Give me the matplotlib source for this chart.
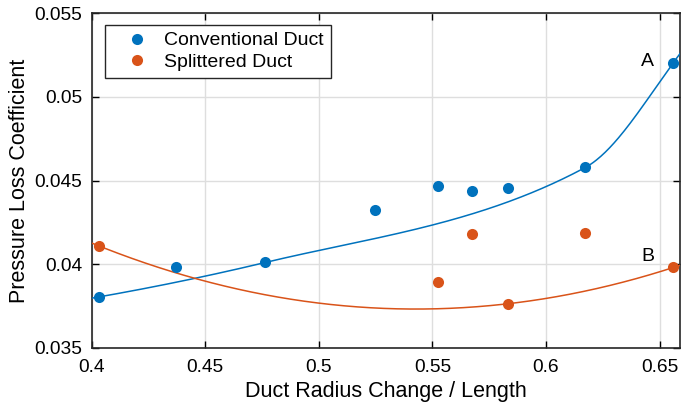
import numpy as np
import matplotlib
matplotlib.use("Agg")
import matplotlib.pyplot as plt

plt.rcParams['font.family'] = ['Liberation Sans', 'DejaVu Sans']

# conventional duct samples
conv_x = [0.4033, 0.4371, 0.4765, 0.5249, 0.5525, 0.5674, 0.5833, 0.6173, 0.6558]
conv_y = [0.03804, 0.03984, 0.04010, 0.04325, 0.04470, 0.04440, 0.04458, 0.04578, 0.05200]
# splittered duct samples
split_x = [0.4033, 0.5525, 0.5674, 0.5833, 0.6173, 0.6561]
split_y = [0.04108, 0.03892, 0.04179, 0.03763, 0.04187, 0.03980]

# points the trend lines go through
conv_fit_idx = [0, 2, 7, 8]
split_fit_idx = [0, 3, 5]

BLUE = '#0072BD'
RED = '#D95319'


def pchip(x, y, xq):
    # shape preserving cubic, extrapolates with the end pieces
    x = np.asarray(x, float)
    y = np.asarray(y, float)
    h = np.diff(x)
    delta = np.diff(y) / h
    n = len(x)
    d = np.zeros(n)
    for k in range(1, n - 1):
        if delta[k - 1] * delta[k] > 0:
            w1 = 2 * h[k] + h[k - 1]
            w2 = h[k] + 2 * h[k - 1]
            d[k] = (w1 + w2) / (w1 / delta[k - 1] + w2 / delta[k])

    def end(h0, h1, d0, d1):
        e = ((2 * h0 + h1) * d0 - h0 * d1) / (h0 + h1)
        if np.sign(e) != np.sign(d0):
            e = 0.0
        elif np.sign(d0) != np.sign(d1) and abs(e) > abs(3 * d0):
            e = 3 * d0
        return e

    d[0] = end(h[0], h[1], delta[0], delta[1])
    d[-1] = end(h[-1], h[-2], delta[-1], delta[-2])
    xq = np.asarray(xq, float)
    k = np.clip(np.searchsorted(x, xq) - 1, 0, n - 2)
    hk = h[k]
    t = (xq - x[k]) / hk
    h00 = 2 * t**3 - 3 * t**2 + 1
    h10 = t**3 - 2 * t**2 + t
    h01 = -2 * t**3 + 3 * t**2
    h11 = t**3 - t**2
    return h00 * y[k] + h10 * hk * d[k] + h01 * y[k + 1] + h11 * hk * d[k + 1]


fig = plt.figure(figsize=(6.81, 4.11), dpi=100)
ax = fig.add_axes([91.7 / 681, 63.3 / 411, (680.5 - 91.7) / 681, (347.7 - 13.3) / 411])

xlim = (0.4, 0.6592)
xs = np.linspace(xlim[0], xlim[1], 400)

cx = np.array(conv_x)[conv_fit_idx]
cy = np.array(conv_y)[conv_fit_idx]
sx = np.array(split_x)[split_fit_idx]
sy = np.array(split_y)[split_fit_idx]
sfit = np.polyfit(sx, sy, 2)

ax.plot(xs, pchip(cx, cy, xs), color=BLUE, lw=1.1, zorder=3)
ax.plot(xs, np.polyval(sfit, xs), color=RED, lw=1.1, zorder=3)
ax.plot(conv_x, conv_y, 'o', color=BLUE, ms=8, mec='none', label='Conventional Duct', zorder=4)
ax.plot(split_x, split_y, 'o', color=RED, ms=8, mec='none', label='Splittered Duct', zorder=4)

ax.text(conv_x[-1] - 0.0082, conv_y[-1] + 0.0001, 'A', fontsize=14, ha='right', va='center')
ax.text(split_x[-1] - 0.0082, split_y[-1] + 0.00065, 'B', fontsize=14, ha='right', va='center')

ax.set_xlim(*xlim)
ax.set_ylim(0.035, 0.055)
ax.set_xticks([0.4, 0.45, 0.5, 0.55, 0.6, 0.65])
ax.set_xticklabels(['0.4', '0.45', '0.5', '0.55', '0.6', '0.65'])
ax.set_yticks([0.035, 0.04, 0.045, 0.05, 0.055])
ax.set_yticklabels(['0.035', '0.04', '0.045', '0.05', '0.055'])
ax.tick_params(direction='in', length=5, width=1, labelsize=13.8, top=True, right=True)
ax.tick_params(axis='x', pad=8)
ax.tick_params(axis='y', pad=7)
ax.grid(True, color='#dedede', lw=1)
ax.set_axisbelow(True)
for s in ax.spines.values():
    s.set_linewidth(1.2)
    s.set_color('#262626')

ax.set_xlabel('Duct Radius Change / Length', fontsize=15.5, labelpad=4)
ax.set_ylabel('Pressure Loss Coefficient', fontsize=15.5, labelpad=3)

leg = ax.legend(loc='upper left', bbox_to_anchor=(105 / 681, 1 - 25 / 411),
                bbox_transform=fig.transFigure, borderaxespad=0, fontsize=14,
                fancybox=False, framealpha=1, edgecolor='#262626',
                handletextpad=0.15, borderpad=0.35, labelspacing=0.2, handlelength=2.55)
leg.get_frame().set_linewidth(1)

fig.savefig('out.png', dpi=100)
